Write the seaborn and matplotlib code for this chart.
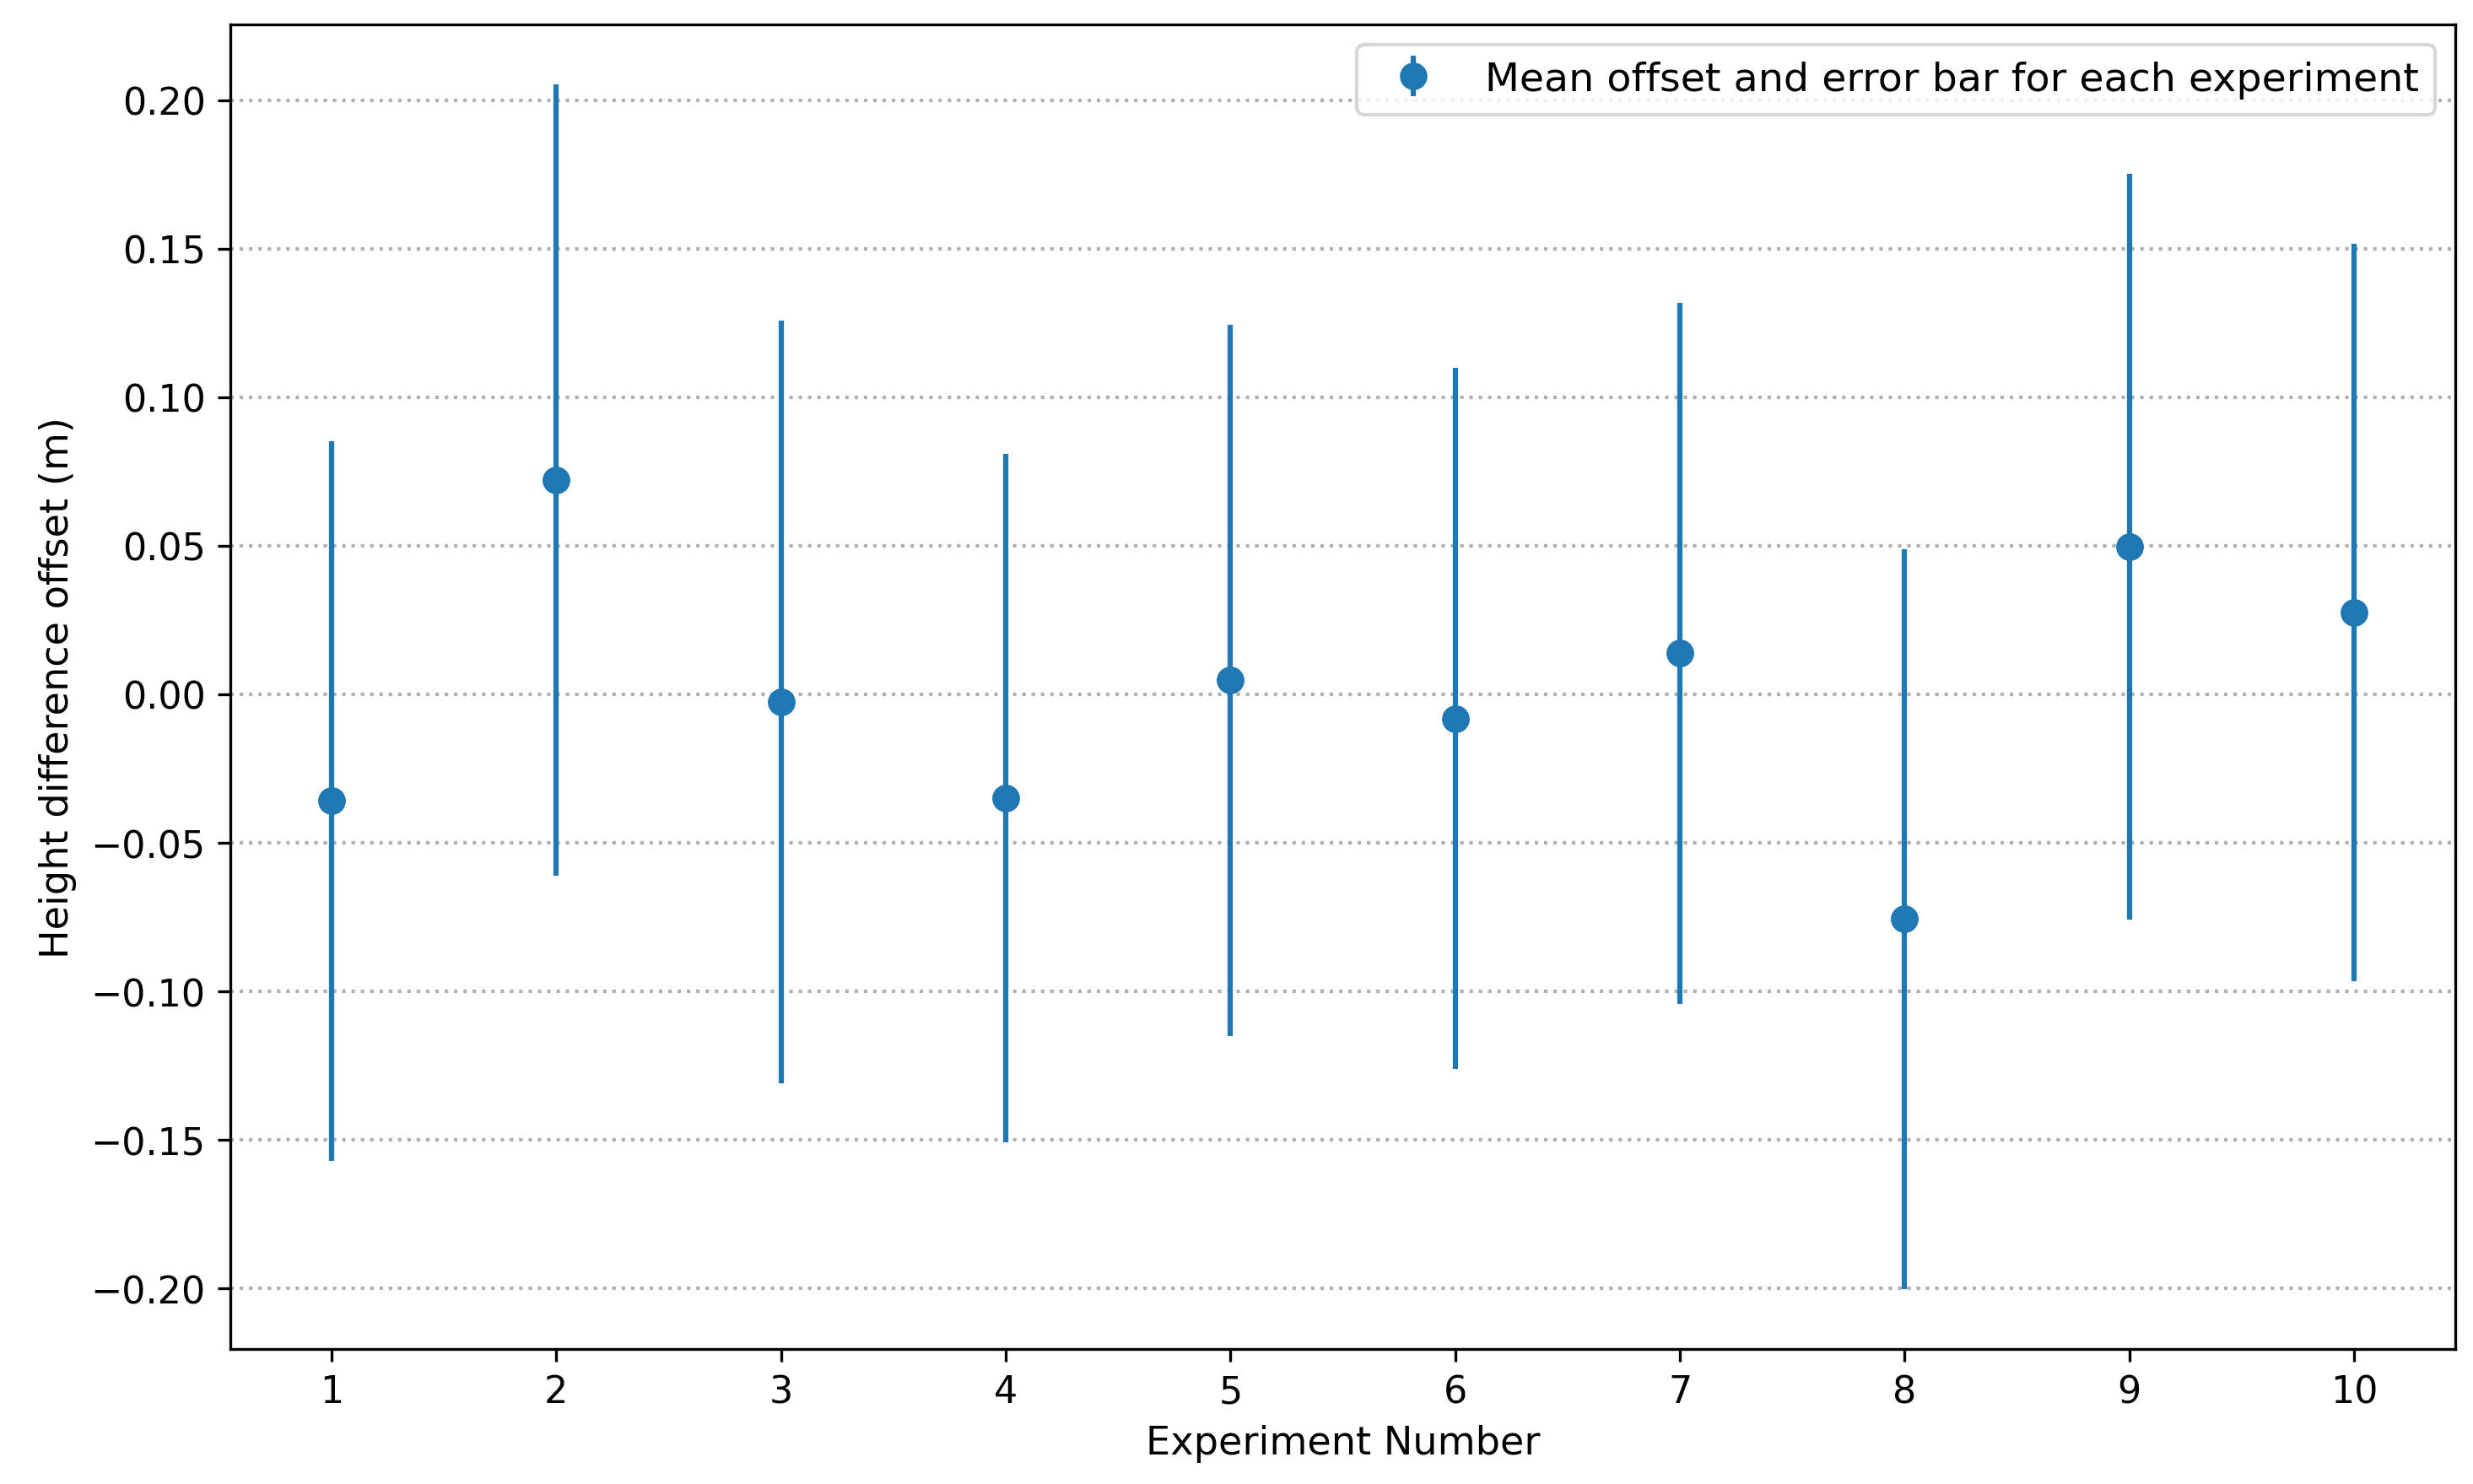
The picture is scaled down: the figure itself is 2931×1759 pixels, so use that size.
import numpy as np
import pandas as pd
import matplotlib
matplotlib.use("Agg")
import matplotlib.pyplot as plt
import seaborn as sns

experiments = [1, 2, 3, 4, 5, 6, 7, 8, 9, 10]
mean_offsets = [-0.0359, 0.0720, -0.0025, -0.0350, 0.0047, -0.0081, 0.0138, -0.0756, 0.0497, 0.0275]
errors = [0.1210, 0.1332, 0.1284, 0.1158, 0.1196, 0.1181, 0.1180, 0.1245, 0.1255, 0.1240]
legend_label = "Mean offset and error bar for each experiment"

df = pd.DataFrame({"experiment": experiments, "mean": mean_offsets, "err": errors})

plt.rcParams['font.family'] = ['DejaVu Sans']
plt.rcParams['font.size'] = 11

color = sns.color_palette("tab10")[0]

fig, ax = plt.subplots(figsize=(2931 / 300, 1760 / 300), dpi=300)
fig.subplots_adjust(left=273 / 2931, right=2910 / 2931, top=1 - 30 / 1760, bottom=1 - 1600 / 1760)

ax.errorbar(df["experiment"], df["mean"], yerr=df["err"], fmt='o', color=color,
            markersize=6.8, elinewidth=1.5, capsize=0, label=legend_label, zorder=3)
sns.scatterplot(data=df, x="experiment", y="mean", color=color, s=60, linewidth=0,
                ax=ax, zorder=4, legend=False)

ax.set_xticks(experiments)
ax.tick_params(axis='both', labelsize=10.7)
ax.set_xlabel("Experiment Number", fontsize=11.1)
ax.set_ylabel("Height difference offset (m)", fontsize=11.1)
ax.yaxis.grid(True, linestyle=':', color='#b0b0b0', linewidth=1.0)
ax.xaxis.grid(False)
ax.set_axisbelow(True)
ax.legend(loc='upper right', fontsize=11.4)

fig.savefig("out.png", dpi=300)
